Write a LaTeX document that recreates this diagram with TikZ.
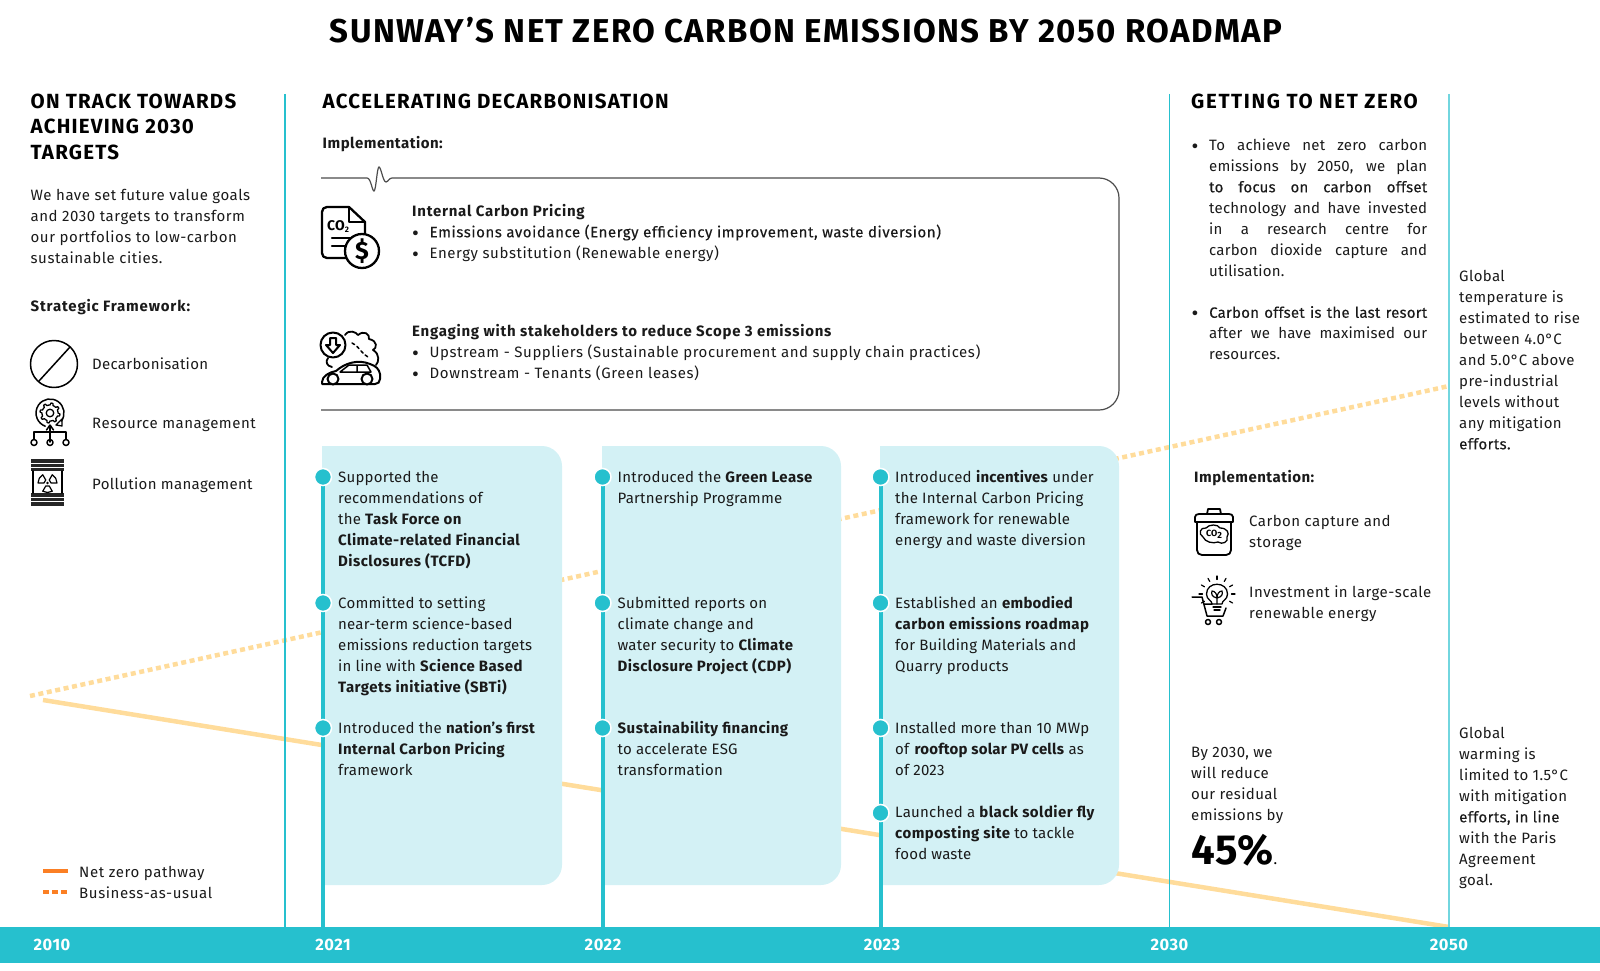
\documentclass[tikz,border=0pt]{standalone}
\usepackage{fontspec}
\setmainfont{Fira Sans}[LetterSpace=1.5]
\usetikzlibrary{calc}
\definecolor{teal1}{HTML}{26C0CE}
\definecolor{paleb}{HTML}{D3F1F5}
\definecolor{path1}{HTML}{FFDC9B}
\definecolor{legend1}{HTML}{FB7F24}
\definecolor{ink}{HTML}{1A1A1A}
\newcommand\bodyf{\fontsize{15}{21}\selectfont}
\newcommand\ls[1]{\addfontfeature{LetterSpace=#1}}
\newcommand\bt[1]{{\bfseries\ls{3}#1}}
\newcommand\md[1]{{\addfontfeature{FakeBold=0.25}#1}}
\newcommand\bul{\makebox[17.5pt][l]{\raisebox{-3pt}{\fontsize{21}{21}\selectfont\textbullet}}}
\tikzset{
 txt/.style={anchor=north west,inner sep=0pt,align=left,yshift=9.6pt,font=\bodyf,text=ink},
 txtw/.style={txt,font=\bodyf\ls{2.6}},
 txtb/.style={txt,font=\bodyf\bfseries\ls{3.3}},
 head/.style={anchor=north west,inner sep=0pt,align=left,yshift=7.5pt,font=\fontsize{20.5}{25.5}\selectfont\bfseries\ls{6},text=black},
 just/.style={anchor=north west,inner sep=0pt,align=justify,text width=218pt,yshift=9.6pt,font=\bodyf,text=ink},
 year/.style={inner sep=0pt,font=\fontsize{16.5}{20}\selectfont\bfseries\ls{3},text=white},
 vline/.style={draw=teal1,line width=1.3pt},
 tline/.style={draw=teal1,line width=4pt},
 dotm/.style={circle,fill=teal1,draw=white,line width=1.5pt,minimum size=17pt,inner sep=0pt},
 ic/.style={draw=black,line width=1.5pt,line cap=round,line join=round},
 nz/.style={draw=path1,line width=4.5pt},
 bau/.style={draw=path1,line width=4.5pt,dash pattern=on 5pt off 3.6pt},
}
\newcommand\lbox[2]{\fill[paleb] (#1,446) -- (#2-20,446) .. controls (#2-9,446) and (#2,455) .. (#2,466) -- (#2,865) .. controls (#2,876) and (#2-9,885) .. (#2-20,885) -- (#1,885) -- cycle;}
\begin{document}
\begin{tikzpicture}[x=1pt,y=-1pt]
\useasboundingbox (0,0) rectangle (1600,971);
% pathways
\coordinate (bauA) at (30,696); \coordinate (bauB) at (1449,386);
\coordinate (nzA) at (43,700); \coordinate (nzB) at (1449,927);
\draw[bau] (bauA) -- (bauB);
\draw[nz] (nzA) -- (nzB);
% pale boxes
\lbox{322}{562}
\lbox{602}{841}
\lbox{880}{1119}
% band
\fill[teal1] (0,927) rectangle (1600,963);
% vertical lines
\coordinate (v1t) at (285,94); \coordinate (v1b) at (285,927);
\coordinate (v2t) at (1169.5,94); \coordinate (v2b) at (1169.5,927);
\coordinate (v3t) at (1449,94); \coordinate (v3b) at (1449,927);
\draw[vline] (v1t) -- (v1b);
\draw[vline] (v2t) -- (v2b);
\draw[vline,draw=teal1!65,line width=1.6pt] (v3t) -- (v3b);
% timelines
\coordinate (t1t) at (323,477); \coordinate (t1b) at (323,927);
\coordinate (t2t) at (602.5,477); \coordinate (t2b) at (602.5,927);
\coordinate (t3t) at (880.5,477); \coordinate (t3b) at (880.5,927);
\draw[tline] (t1t) -- (t1b);
\draw[tline] (t2t) -- (t2b);
\draw[tline] (t3t) -- (t3b);
\foreach \n/\x/\y in {a1/323/477,a2/323/603,a3/323/728,b1/602.5/477,b2/602.5/603,b3/602.5/728,c1/880.5/477,c2/880.5/603,c3/880.5/728,c4/880.5/813}
 \node[dotm] (\n) at (\x,\y) {};
% title
\node[inner sep=0pt,font=\fontsize{33}{38}\selectfont\bfseries\ls{4.3},text=black] (title) at (806,30.5) {SUNWAY’S NET ZERO CARBON EMISSIONS BY 2050 ROADMAP};
% left
\node[head] (h1) at (30.5,101) {ON TRACK TOWARDS\\ACHIEVING 2030\\TARGETS};
\node[txtw,font=\bodyf\ls{3.6}] (p1) at (30.5,195) {\strut We have set future value goals\\and 2030 targets to transform\\our portfolios to low-carbon\\sustainable cities.};
\node[txt,font=\bodyf\bfseries\ls{5.5}] (sf) at (30.5,306) {\strut Strategic Framework:};
\node[txt,font=\bodyf\ls{2}] (l1) at (92,364) {\strut Decarbonisation};
\node[txtw,font=\bodyf\ls{3.5}] (l2) at (92,423) {\strut Resource management};
\node[txt,font=\bodyf\ls{2.2}] (l3) at (92,484) {\strut Pollution management};
% legend
\coordinate (la) at (43,871); \coordinate (lb) at (67.5,871);
\coordinate (lc) at (43,892); \coordinate (ld) at (67.5,892);
\draw[legend1,line width=3.5pt] (la) -- (lb);
\draw[legend1,line width=3.5pt,dash pattern=on 5.5pt off 3.5pt] (lc) -- (ld);
\node[txtw,font=\bodyf\ls{4}] (lt1) at (79,872) {\strut Net zero pathway};
\node[txtw,font=\bodyf\ls{4}] (lt2) at (79,893) {\strut Business-as-usual};
% years
\node[year] (y0) at (52,945) {2010};
\node[year] (y1) at (333,945) {2021};
\node[year] (y2) at (603,945) {2022};
\node[year] (y3) at (882,945) {2023};
\node[year] (y4) at (1169.5,945) {2030};
\node[year] (y5) at (1449,945) {2050};
% middle
\node[head] (h2) at (322.5,101) {ACCELERATING DECARBONISATION};
\node[txtb] (impl) at (322.5,143) {\strut Implementation:};
\draw[draw=black!70,line width=1.2pt] (321,178) -- (367,178)
  .. controls (371,178) and (372,191) .. (374,191)
  .. controls (376,191) and (377,167) .. (379,167)
  .. controls (381,167) and (383,182) .. (386,182)
  .. controls (388,182) and (389,178) .. (392,178)
  -- (1099,178) .. controls (1110,178) and (1119,187) .. (1119,198)
  -- (1119,390) .. controls (1119,401) and (1110,410) .. (1099,410)
  -- (321,410);
\node[txt,font=\bodyf\ls{3.8}] (icp) at (412,211) {\strut{\bfseries\ls{5}Internal Carbon Pricing}\\\bul\md{Emissions avoidance (Energy efficiency improvement, waste diversion)}\\\bul Energy substitution (Renewable energy)};
\node[txt,font=\bodyf\ls{3.8}] (eng) at (412,331) {\strut{\bfseries\ls{5}Engaging with stakeholders to reduce Scope 3 emissions}\\\bul Upstream - Suppliers (Sustainable procurement and supply chain practices)\\\bul Downstream - Tenants (Green leases)};
% box 1
\node[txt] (a1t) at (338,477) {\strut Supported the\\recommendations of\\the \bt{Task Force on}\\\bt{Climate-related Financial}\\\bt{Disclosures (TCFD)}};
\node[txt] (a2t) at (338,603) {\strut Committed to setting\\near-term science-based\\emissions reduction targets\\in line with \bt{Science Based}\\\bt{Targets initiative (SBTi)}};
\node[txt] (a3t) at (338,728) {\strut Introduced the \textbf{nation’s first}\\\bt{Internal Carbon Pricing}\\framework};
% box 2
\node[txt] (b1t) at (617.5,477) {\strut Introduced the \bt{Green Lease}\\Partnership Programme};
\node[txt] (b2t) at (617.5,603) {\strut Submitted reports on\\climate change and\\water security to \bt{Climate}\\\bt{Disclosure Project (CDP)}};
\node[txt] (b3t) at (617.5,728) {\strut\bt{Sustainability financing}\\to accelerate ESG\\transformation};
% box 3
\node[txt] (c1t) at (895,477) {\strut Introduced \textbf{incentives} under\\the Internal Carbon Pricing\\framework for renewable\\energy and waste diversion};
\node[txt] (c2t) at (895,603) {\strut Established an \textbf{embodied}\\\bt{carbon emissions roadmap}\\for Building Materials and\\Quarry products};
\node[txt] (c3t) at (895,728) {\strut Installed more than 10 MWp\\of \textbf{rooftop solar PV cells} as\\of 2023};
\node[txt] (c4t) at (895,812) {\strut Launched a \bt{black soldier fly}\\\bt{composting site} to tackle\\food waste};
% right
\node[head,font=\fontsize{20.5}{25.5}\selectfont\bfseries\ls{8}] (h3) at (1191,101) {GETTING TO NET ZERO};
\node[txt] (bu1) at (1191.5,145) {\strut\bul};
\node[just] (r1) at (1209,145) {\strut To achieve net zero carbon\linebreak emissions by 2050, we plan\linebreak \md{to focus on carbon offset}\linebreak technology and have invested\linebreak in a research centre for\linebreak carbon dioxide capture and\linebreak utilisation.};
\node[txt] (bu2) at (1191.5,312.5) {\strut\bul};
\node[just] (r2) at (1209,312.5) {\strut\md{Carbon offset is the last resort}\linebreak after we have maximised our\linebreak resources.};
\node[txtb] (impl2) at (1194,477) {\strut Implementation:};
\node[txtw,font=\bodyf\ls{3.2}] (cc) at (1249,521) {\strut Carbon capture and\\storage};
\node[txtw,font=\bodyf\ls{3.2}] (inv) at (1249,592) {\strut Investment in large-scale\\renewable energy};
\node[txtw] (by) at (1191,752) {\strut By 2030, we\\will reduce\\our residual\\emissions by};
\node[anchor=base west,inner sep=0pt,font=\bodyf,text=black] (pct) at (1191,864) {{\fontsize{42}{44}\selectfont\bfseries 45\%}.};
\node[txtw] (g1) at (1459,276) {\strut Global\\temperature is\\estimated to rise\\between 4.0°C\\and 5.0°C above\\pre-industrial\\levels without\\any mitigation\\\md{efforts.}};
\node[txtw] (g2) at (1459,733) {\strut Global\\warming is\\limited to 1.5°C\\with mitigation\\\md{efforts, in line}\\with the Paris\\Agreement\\goal.};
% ---- icons ----
% decarbonisation
\draw[ic] (54,364) circle (23.5);
\draw[ic] (39,381) -- (70,347);
% resource
\begin{scope}[shift={(50,413)}]
\draw[ic,line width=1.3pt] plot[domain=0:360,samples=65] (\x:{8+2*(sin(8*\x)>0?1:0)}) -- cycle;
\draw[ic,line width=1.3pt] (0,0) circle (3.8);
\draw[ic] (35:14) arc (35:-250:14);
\draw[ic,line width=1.3pt] (12,6) -- (6,12) -- (12,13) -- cycle;
\end{scope}
\draw[ic] (50,442) -- (50,426);
\draw[ic] (46.5,430) -- (50,425) -- (53.5,430);
\draw[ic] (34,439) -- (34,432) -- (66,432) -- (66,439);
\draw[ic] (34,442.5) circle (3);
\draw[ic] (50,442.5) circle (3);
\draw[ic] (66,442.5) circle (3);
% barrel
\fill[black!85] (31,459) rectangle (64,471);
\fill[black!85] (31,493) rectangle (64,506);
\draw[white,line width=1pt] (31,463) -- (64,463) (31,467.5) -- (64,467.5) (31,497) -- (64,497) (31,501.5) -- (64,501.5);
\draw[ic] (33,471) -- (33,493) (62,471) -- (62,493);
\begin{scope}[shift={(47.5,483)}]
\fill (0,0) circle (1.3);
\foreach \a in {90,210,330} {
 \draw[ic,line width=1.2pt] (\a-30:3.5) -- (\a-30:9.5) arc (\a-30:\a+30:9.5) -- (\a+30:3.5) arc (\a+30:\a-30:3.5);
}
\end{scope}
% CO2 doc
\draw[ic,line width=2.3pt] (349,207) -- (327,207) .. controls (324,207) and (322,209) .. (322,212) -- (322,253) .. controls (322,256) and (324,258) .. (327,258) -- (346,258);
\draw[ic,line width=2.3pt] (349,207) -- (365,222) -- (365,234);
\draw[ic,line width=2.3pt] (349,207) -- (349,222) -- (365,222);
\draw[ic,line width=2.3pt] (332,238) -- (356,238) (332,246) -- (347,246);
\node[inner sep=0pt,font=\fontsize{14}{14}\selectfont\bfseries,text=black] (co2a) at (338,227) {CO\raisebox{-2pt}{\fontsize{8}{8}\selectfont 2}};
\draw[ic,line width=2.3pt,fill=white] (362,251) circle (17);
\node[inner sep=0pt,font=\fontsize{25}{25}\selectfont\bfseries,text=black] (dollar) at (362,251) {\$};
% car/cloud
\draw[ic,line width=1.8pt] (345,335) .. controls (349,329) and (356,332) .. (358,335) .. controls (364,330) and (370,334) .. (369,339) .. controls (378,341) and (377,348) .. (373,350) .. controls (380,354) and (379,362) .. (376,365);
\draw[ic,line width=1.8pt] (328,358) .. controls (325,362) and (327,366) .. (332,367);
\draw[ic,fill=white,line width=2pt] (333,345) circle (12.5);
\draw[ic,line width=2pt] (330,338) -- (336,338) -- (336,345) -- (340,345) -- (333,353) -- (326,345) -- (330,345) -- cycle;
\draw[ic,line width=1.5pt,dash pattern=on 3pt off 3pt] (352,343) .. controls (358,345) and (360,352) .. (368,357);
\draw[ic,fill=white,line width=2pt] (322,382) .. controls (322,376) and (330,372) .. (336,371) .. controls (345,363) and (358,359) .. (370,364) .. controls (376,366) and (379,369) .. (380,374) -- (380,379) .. controls (380,382) and (378,384) .. (375,384) -- (322,384) -- cycle;
\draw[ic,line width=1.5pt] (340,372) -- (349,365) -- (367,365) -- (371,372) -- cycle (357,365) -- (357,372);
\draw[ic,fill=white,line width=2pt] (333,379) circle (5.5);
\draw[ic,fill=white,line width=2pt] (367,379) circle (5.5);
% bin
\draw[ic,line width=1.8pt] (1197,522) -- (1197,550) .. controls (1197,553) and (1199,555) .. (1202,555) -- (1226,555) .. controls (1229,555) and (1231,553) .. (1231,550) -- (1231,522);
\draw[ic,line width=1.8pt] (1195,522) -- (1195,517) .. controls (1195,515) and (1197,514) .. (1199,514) -- (1229,514) .. controls (1231,514) and (1233,515) .. (1233,517) -- (1233,522) -- cycle;
\draw[ic,line width=1.8pt] (1207,514) -- (1208,509) -- (1220,509) -- (1221,514);
\draw[ic,line width=1.3pt] (1203,537) .. controls (1198,534) and (1200,527) .. (1206,528) .. controls (1209,524) and (1218,524) .. (1220,528) .. controls (1227,528) and (1230,533) .. (1227,537) .. controls (1229,542) and (1222,545) .. (1218,542) .. controls (1213,544) and (1205,542) .. cycle;
\node[inner sep=0pt,font=\fontsize{9}{9}\selectfont\bfseries,text=black] (co2b) at (1214,534) {CO\raisebox{-2pt}{2}};
% bulb cart
\draw[ic,line width=1.3pt] (1212,604) .. controls (1212,600) and (1206.5,600) .. (1206.5,594) .. controls (1206.5,581) and (1227.5,581) .. (1227.5,594) .. controls (1227.5,600) and (1222,600) .. (1222,604) -- cycle;
\draw[ic,line width=1.3pt] (1213,607) -- (1221,607) (1214,610) -- (1220,610);
\draw[ic,line width=1.2pt] (1217,604) -- (1217,595) (1217,598) .. controls (1212,597) and (1211,594) .. (1212,591) .. controls (1215,591) and (1217,594) .. (1217,598) (1217,598) .. controls (1222,597) and (1223,594) .. (1222,591) .. controls (1219,591) and (1217,594) .. (1217,598);
\foreach \a in {-210,-180,...,30} \draw[ic,line width=1.2pt] ($(1217,594)+(\a:14.5)$) -- ($(1217,594)+(\a:18)$);
\draw[ic,line width=1.5pt] (1192,597) -- (1202,597) -- (1207,616) -- (1223,616) -- (1226,608) (1203.5,604) -- (1212,604);
\draw[ic,line width=1.5pt] (1208,622) circle (2.5) (1219,622) circle (2.5);
\end{tikzpicture}
\end{document}
